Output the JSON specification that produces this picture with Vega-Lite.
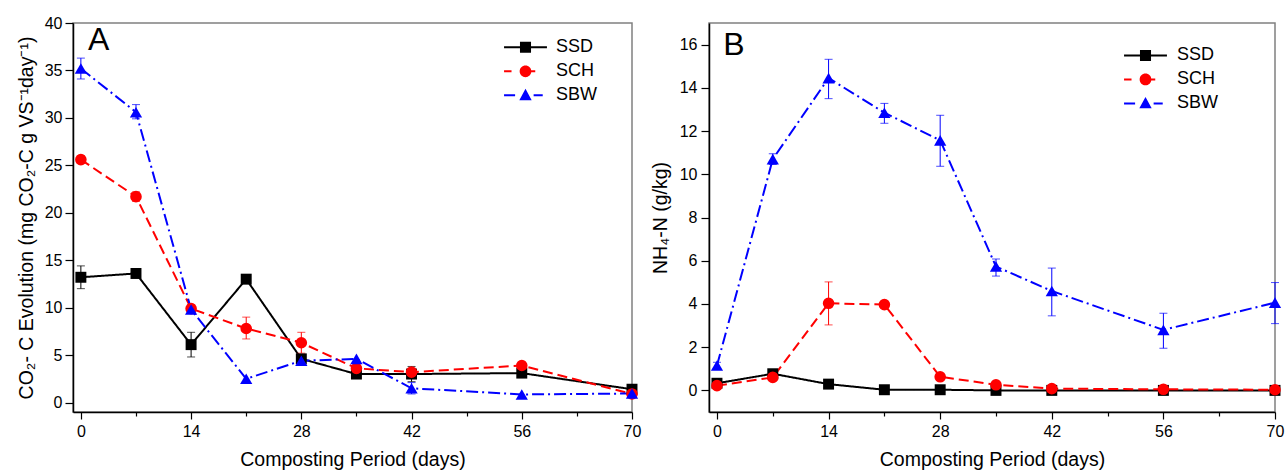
{
  "$schema": "https://vega.github.io/schema/vega-lite/v6.json",
  "padding": {"left": 15, "top": 14, "right": 5, "bottom": 2},
  "config": {
    "font": "Liberation Sans",
    "view": {"stroke": "#808080", "strokeWidth": 1.5},
    "axis": {"domainColor": "#000", "domainWidth": 1.5, "tickColor": "#000", "tickWidth": 1.2, "labelColor": "#000", "titleColor": "#000", "labelFontSize": 16, "titleFontSize": 19.5, "titleFontWeight": "normal", "grid": false, "labelFont": "Liberation Sans", "titleFont": "Liberation Sans", "labelOverlap": false, "labelFlush": false}
  },
  "datasets": {
    "a": [
      {"day": 0, "series": "SSD", "v": 13.2, "lo": 12.0, "hi": 14.4},
      {"day": 7, "series": "SSD", "v": 13.6, "lo": 13.2, "hi": 14.0},
      {"day": 14, "series": "SSD", "v": 6.1, "lo": 4.8, "hi": 7.4},
      {"day": 21, "series": "SSD", "v": 13.0, "lo": 12.6, "hi": 13.4},
      {"day": 28, "series": "SSD", "v": 4.6, "lo": 4.3, "hi": 4.9},
      {"day": 35, "series": "SSD", "v": 3.0, "lo": 2.8, "hi": 3.2},
      {"day": 42, "series": "SSD", "v": 3.0, "lo": 2.2, "hi": 3.8},
      {"day": 56, "series": "SSD", "v": 3.1, "lo": 2.9, "hi": 3.3},
      {"day": 70, "series": "SSD", "v": 1.4, "lo": 1.2, "hi": 1.6},
      {"day": 0, "series": "SCH", "v": 25.6, "lo": 25.2, "hi": 26.0},
      {"day": 7, "series": "SCH", "v": 21.7, "lo": 21.2, "hi": 22.2},
      {"day": 14, "series": "SCH", "v": 9.9, "lo": 9.5, "hi": 10.3},
      {"day": 21, "series": "SCH", "v": 7.8, "lo": 6.7, "hi": 9.0},
      {"day": 28, "series": "SCH", "v": 6.3, "lo": 5.2, "hi": 7.4},
      {"day": 35, "series": "SCH", "v": 3.6, "lo": 3.3, "hi": 3.9},
      {"day": 42, "series": "SCH", "v": 3.2, "lo": 2.9, "hi": 3.5},
      {"day": 56, "series": "SCH", "v": 3.9, "lo": 3.7, "hi": 4.1},
      {"day": 70, "series": "SCH", "v": 0.9, "lo": null, "hi": null},
      {"day": 0, "series": "SBW", "v": 35.2, "lo": 34.1, "hi": 36.3},
      {"day": 7, "series": "SBW", "v": 30.6, "lo": 29.9, "hi": 31.4},
      {"day": 14, "series": "SBW", "v": 9.8, "lo": null, "hi": null},
      {"day": 21, "series": "SBW", "v": 2.5, "lo": null, "hi": null},
      {"day": 28, "series": "SBW", "v": 4.4, "lo": 4.0, "hi": 4.8},
      {"day": 35, "series": "SBW", "v": 4.6, "lo": null, "hi": null},
      {"day": 42, "series": "SBW", "v": 1.5, "lo": 0.9, "hi": 2.1},
      {"day": 56, "series": "SBW", "v": 0.85, "lo": null, "hi": null},
      {"day": 70, "series": "SBW", "v": 0.95, "lo": null, "hi": null}
    ],
    "b": [
      {"day": 0, "series": "SSD", "v": 0.33, "lo": 0.2, "hi": 0.46},
      {"day": 7, "series": "SSD", "v": 0.77, "lo": 0.65, "hi": 0.9},
      {"day": 14, "series": "SSD", "v": 0.29, "lo": null, "hi": null},
      {"day": 21, "series": "SSD", "v": 0.03, "lo": null, "hi": null},
      {"day": 28, "series": "SSD", "v": 0.03, "lo": null, "hi": null},
      {"day": 35, "series": "SSD", "v": 0.0, "lo": null, "hi": null},
      {"day": 42, "series": "SSD", "v": 0.0, "lo": null, "hi": null},
      {"day": 56, "series": "SSD", "v": 0.0, "lo": null, "hi": null},
      {"day": 70, "series": "SSD", "v": 0.0, "lo": null, "hi": null},
      {"day": 0, "series": "SCH", "v": 0.22, "lo": null, "hi": null},
      {"day": 7, "series": "SCH", "v": 0.6, "lo": null, "hi": null},
      {"day": 14, "series": "SCH", "v": 4.03, "lo": 3.03, "hi": 5.02},
      {"day": 21, "series": "SCH", "v": 3.97, "lo": 3.9, "hi": 4.05},
      {"day": 28, "series": "SCH", "v": 0.63, "lo": null, "hi": null},
      {"day": 35, "series": "SCH", "v": 0.26, "lo": null, "hi": null},
      {"day": 42, "series": "SCH", "v": 0.08, "lo": null, "hi": null},
      {"day": 56, "series": "SCH", "v": 0.05, "lo": null, "hi": null},
      {"day": 70, "series": "SCH", "v": 0.03, "lo": null, "hi": null},
      {"day": 0, "series": "SBW", "v": 1.15, "lo": 1.0, "hi": 1.3},
      {"day": 7, "series": "SBW", "v": 10.7, "lo": 10.45, "hi": 10.95},
      {"day": 14, "series": "SBW", "v": 14.45, "lo": 13.5, "hi": 15.32},
      {"day": 21, "series": "SBW", "v": 12.85, "lo": 12.36, "hi": 13.28},
      {"day": 28, "series": "SBW", "v": 11.57, "lo": 10.37, "hi": 12.73},
      {"day": 35, "series": "SBW", "v": 5.73, "lo": 5.29, "hi": 6.08},
      {"day": 42, "series": "SBW", "v": 4.6, "lo": 3.45, "hi": 5.66},
      {"day": 56, "series": "SBW", "v": 2.8, "lo": 1.95, "hi": 3.57},
      {"day": 70, "series": "SBW", "v": 4.06, "lo": 3.09, "hi": 4.99}
    ]
  },
  "bounds": "flush",
  "spacing": 77,
  "resolve": {"scale": {"x": "independent", "y": "independent", "color": "independent", "strokeDash": "independent"}},
  "hconcat": [
    {
      "width": 559,
      "height": 389,
      "data": {"name": "a"},
      "layer": [
        {
          "mark": {"type": "line", "strokeWidth": 2},
          "encoding": {
            "x": {"field": "day", "type": "quantitative", "scale": {"domain": [-1, 70], "nice": false, "zero": false},
              "axis": {"title": "Composting Period (days)", "values": [0, 7, 14, 21, 28, 35, 42, 49, 56, 63, 70], "labelExpr": "datum.value % 14 === 0 ? datum.label : ''", "tickSize": {"condition": {"test": "datum.value % 14 === 0", "value": 7}, "value": 4}, "labelPadding": 4, "titlePadding": 11}},
            "y": {"field": "v", "type": "quantitative", "scale": {"domain": [-1, 40], "nice": false, "zero": false},
              "axis": {"title": "CO₂- C Evolution (mg CO₂-C g VS⁻¹day⁻¹)", "values": [0, 2.5, 5, 7.5, 10, 12.5, 15, 17.5, 20, 22.5, 25, 27.5, 30, 32.5, 35, 37.5, 40], "labelExpr": "datum.value % 5 === 0 ? datum.label : ''", "tickSize": {"condition": {"test": "datum.value % 5 === 0", "value": 8}, "value": 4}, "labelPadding": 3, "titlePadding": 8}},
            "color": {"field": "series", "type": "nominal", "scale": {"domain": ["SSD", "SCH", "SBW"], "range": ["#000000", "#ff0000", "#0000ff"]},
              "legend": {"orient": "none", "legendX": 443.5, "legendY": 15.3, "title": null, "labelFontSize": 18, "labelColor": "#000", "labelOffset": 21.5, "symbolSize": 169, "symbolStrokeWidth": 0, "symbolOpacity": 1, "rowPadding": 6, "padding": 0,
                "encode": {"symbols": {"update": {"fill": {"scale": "color", "field": "value"}, "strokeWidth": {"value": 0}, "shape": {"signal": "datum.value === 'SSD' ? 'M-3.3,-0.15H3.3V0.15H-3.3Z M-0.85,-0.85H0.85V0.85H-0.85Z' : datum.value === 'SCH' ? 'M-3.3,-0.15H-2.15V0.15H-3.3Z M0.8,-0.15H1.5V0.15H0.8Z M-0.9,0A0.9,0.9 0 1 1 0.9,0A0.9,0.9 0 1 1 -0.9,0Z' : 'M-3.3,-0.15H-1.6V0.15H-3.3Z M1.25,-0.15H2.65V0.15H1.25Z M0,-1L0.95,0.75L-0.95,0.75Z'"}}}}}},
            "strokeDash": {"field": "series", "type": "nominal", "scale": {"domain": ["SSD", "SCH", "SBW"], "range": [[1, 0], [10, 5], [12, 4, 2, 4]]}, "legend": null}
          }
        },
        {
          "transform": [{"filter": "isValid(datum.lo)"}],
          "mark": {"type": "rule", "strokeWidth": 1},
          "encoding": {
            "x": {"field": "day", "type": "quantitative"},
            "y": {"field": "lo", "type": "quantitative"},
            "y2": {"field": "hi"},
            "color": {"field": "series", "type": "nominal"}
          }
        },
        {
          "transform": [{"filter": "isValid(datum.lo)"}],
          "mark": {"type": "tick", "orient": "horizontal", "size": 8, "thickness": 1},
          "encoding": {
            "x": {"field": "day", "type": "quantitative"},
            "y": {"field": "lo", "type": "quantitative"},
            "color": {"field": "series", "type": "nominal"}
          }
        },
        {
          "transform": [{"filter": "isValid(datum.lo)"}],
          "mark": {"type": "tick", "orient": "horizontal", "size": 8, "thickness": 1},
          "encoding": {
            "x": {"field": "day", "type": "quantitative"},
            "y": {"field": "hi", "type": "quantitative"},
            "color": {"field": "series", "type": "nominal"}
          }
        },
        {
          "transform": [{"filter": "datum.series === 'SSD'"}],
          "mark": {"type": "point", "filled": true, "opacity": 1, "shape": "square", "size": 120},
          "encoding": {"x": {"field": "day", "type": "quantitative"}, "y": {"field": "v", "type": "quantitative"}, "color": {"field": "series", "type": "nominal"}}
        },
        {
          "transform": [{"filter": "datum.series === 'SCH'"}],
          "mark": {"type": "point", "filled": true, "opacity": 1, "shape": "circle", "size": 135},
          "encoding": {"x": {"field": "day", "type": "quantitative"}, "y": {"field": "v", "type": "quantitative"}, "color": {"field": "series", "type": "nominal"}}
        },
        {
          "transform": [{"filter": "datum.series === 'SBW'"}],
          "mark": {"type": "point", "filled": true, "opacity": 1, "shape": "triangle-up", "size": 150},
          "encoding": {"x": {"field": "day", "type": "quantitative"}, "y": {"field": "v", "type": "quantitative"}, "color": {"field": "series", "type": "nominal"}}
        },
        {
          "data": {"values": [{"panel": "A"}]},
          "mark": {"type": "text", "fontSize": 32, "align": "left", "baseline": "middle", "color": "#000"},
          "encoding": {
            "x": {"datum": 0.9, "type": "quantitative"},
            "y": {"datum": 38.2, "type": "quantitative"},
            "text": {"field": "panel"}
          }
        }
      ]
    },
    {
      "width": 566,
      "height": 389,
      "data": {"name": "b"},
      "layer": [
        {
          "mark": {"type": "line", "strokeWidth": 2},
          "encoding": {
            "x": {"field": "day", "type": "quantitative", "scale": {"domain": [-1, 70], "nice": false, "zero": false},
              "axis": {"title": "Composting Period (days)", "values": [0, 7, 14, 21, 28, 35, 42, 49, 56, 63, 70], "labelExpr": "datum.value % 14 === 0 ? datum.label : ''", "tickSize": {"condition": {"test": "datum.value % 14 === 0", "value": 7}, "value": 4}, "labelPadding": 4, "titlePadding": 11}},
            "y": {"field": "v", "type": "quantitative", "scale": {"domain": [-1, 17], "nice": false, "zero": false},
              "axis": {"title": "NH₄-N (g/kg)", "values": [0, 1, 2, 3, 4, 5, 6, 7, 8, 9, 10, 11, 12, 13, 14, 15, 16], "labelExpr": "datum.value % 2 === 0 ? datum.label : ''", "tickSize": {"condition": {"test": "datum.value % 2 === 0", "value": 8}, "value": 4}, "labelPadding": 4, "titlePadding": 9}},
            "color": {"field": "series", "type": "nominal", "scale": {"domain": ["SSD", "SCH", "SBW"], "range": ["#000000", "#ff0000", "#0000ff"]},
              "legend": {"orient": "none", "legendX": 427.5, "legendY": 23.4, "title": null, "labelFontSize": 18, "labelColor": "#000", "labelOffset": 22.5, "symbolSize": 169, "symbolStrokeWidth": 0, "symbolOpacity": 1, "rowPadding": 6, "padding": 0,
                "encode": {"symbols": {"update": {"fill": {"scale": "color", "field": "value"}, "strokeWidth": {"value": 0}, "shape": {"signal": "datum.value === 'SSD' ? 'M-3.3,-0.15H3.3V0.15H-3.3Z M-0.85,-0.85H0.85V0.85H-0.85Z' : datum.value === 'SCH' ? 'M-3.3,-0.15H-2.15V0.15H-3.3Z M0.8,-0.15H1.5V0.15H0.8Z M-0.9,0A0.9,0.9 0 1 1 0.9,0A0.9,0.9 0 1 1 -0.9,0Z' : 'M-3.3,-0.15H-1.6V0.15H-3.3Z M1.25,-0.15H2.65V0.15H1.25Z M0,-1L0.95,0.75L-0.95,0.75Z'"}}}}}},
            "strokeDash": {"field": "series", "type": "nominal", "scale": {"domain": ["SSD", "SCH", "SBW"], "range": [[1, 0], [10, 5], [12, 4, 2, 4]]}, "legend": null}
          }
        },
        {
          "transform": [{"filter": "isValid(datum.lo)"}],
          "mark": {"type": "rule", "strokeWidth": 1},
          "encoding": {
            "x": {"field": "day", "type": "quantitative"},
            "y": {"field": "lo", "type": "quantitative"},
            "y2": {"field": "hi"},
            "color": {"field": "series", "type": "nominal"}
          }
        },
        {
          "transform": [{"filter": "isValid(datum.lo)"}],
          "mark": {"type": "tick", "orient": "horizontal", "size": 8, "thickness": 1},
          "encoding": {
            "x": {"field": "day", "type": "quantitative"},
            "y": {"field": "lo", "type": "quantitative"},
            "color": {"field": "series", "type": "nominal"}
          }
        },
        {
          "transform": [{"filter": "isValid(datum.lo)"}],
          "mark": {"type": "tick", "orient": "horizontal", "size": 8, "thickness": 1},
          "encoding": {
            "x": {"field": "day", "type": "quantitative"},
            "y": {"field": "hi", "type": "quantitative"},
            "color": {"field": "series", "type": "nominal"}
          }
        },
        {
          "transform": [{"filter": "datum.series === 'SSD'"}],
          "mark": {"type": "point", "filled": true, "opacity": 1, "shape": "square", "size": 120},
          "encoding": {"x": {"field": "day", "type": "quantitative"}, "y": {"field": "v", "type": "quantitative"}, "color": {"field": "series", "type": "nominal"}}
        },
        {
          "transform": [{"filter": "datum.series === 'SCH'"}],
          "mark": {"type": "point", "filled": true, "opacity": 1, "shape": "circle", "size": 135},
          "encoding": {"x": {"field": "day", "type": "quantitative"}, "y": {"field": "v", "type": "quantitative"}, "color": {"field": "series", "type": "nominal"}}
        },
        {
          "transform": [{"filter": "datum.series === 'SBW'"}],
          "mark": {"type": "point", "filled": true, "opacity": 1, "shape": "triangle-up", "size": 150},
          "encoding": {"x": {"field": "day", "type": "quantitative"}, "y": {"field": "v", "type": "quantitative"}, "color": {"field": "series", "type": "nominal"}}
        },
        {
          "data": {"values": [{"panel": "B"}]},
          "mark": {"type": "text", "fontSize": 32, "align": "left", "baseline": "middle", "color": "#000"},
          "encoding": {
            "x": {"datum": 0.8, "type": "quantitative"},
            "y": {"datum": 16.0, "type": "quantitative"},
            "text": {"field": "panel"}
          }
        }
      ]
    }
  ]
}
